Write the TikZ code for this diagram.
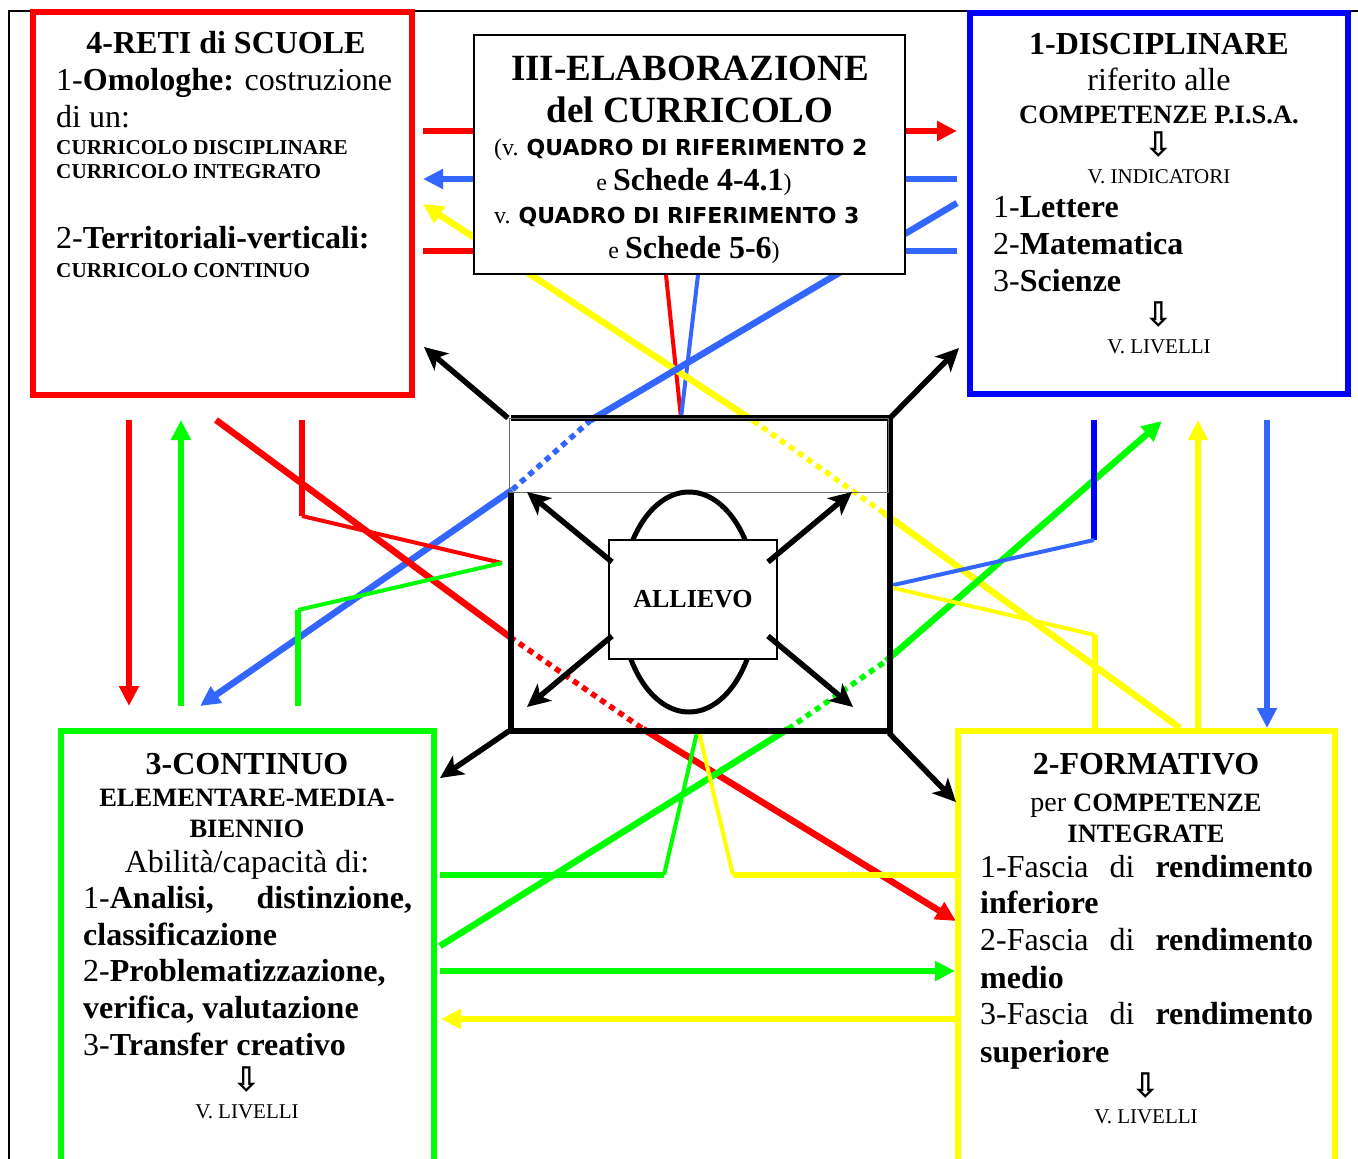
\documentclass[tikz,border=0pt]{standalone}
\usepackage{fontspec}
\setmainfont{Liberation Serif}
\newfontfamily\verdfont{DejaVu Sans}
\usetikzlibrary{arrows.meta}

\definecolor{rosso}{RGB}{255,0,0}
\definecolor{blu}{RGB}{0,0,255}
\definecolor{azzurro}{RGB}{51,102,255}
\definecolor{verde}{RGB}{0,255,0}
\definecolor{giallo}{RGB}{255,255,0}
\definecolor{grigio}{RGB}{110,110,110}

\newcommand\szT{\fontsize{32}{37}\selectfont}
\newcommand\szH{\fontsize{37}{42}\selectfont}
\newcommand\szM{\fontsize{26.5}{31}\selectfont}
\newcommand\szS{\fontsize{21.2}{24}\selectfont}
\newcommand\szV{\fontsize{21}{25}\selectfont}
\newcommand\szP{\fontsize{24}{28}\selectfont}
\newcommand\frecciagiu{{\verdfont\bfseries\fontsize{34}{34}\selectfont ⇩}}
\newcommand\quadrorif[1]{{\verdfont\bfseries\fontsize{22}{25}\selectfont QUADRO DI RIFERIMENTO #1}}

\begin{document}
\begin{tikzpicture}[x=1pt, y=-1pt,
  fat/.style={line width=6.5pt},
  slim/.style={line width=4pt},
  spotted/.style={line width=5.5pt, dash pattern=on 6pt off 5pt},
  headed/.style={-{Triangle[length=20pt,width=19pt]}},
  blackarrow/.style={line width=5.5pt, -{Stealth[length=23pt,width=22pt,inset=6pt]}},
  lbl/.style={inner sep=0pt, anchor=base west},
  clbl/.style={inner sep=0pt, anchor=base}]
\useasboundingbox (0,0) rectangle (1358,1159);
\clip (0,0) rectangle (1358,1159);
\fill[white] (0,0) rectangle (1358,1159);

% frame
\coordinate (fBL) at (9,1159);
\coordinate (fTL) at (9,11);
\coordinate (fTR) at (1358,11);
\draw[line width=1.5pt] (fBL) -- (fTL) -- (fTR);

% connectors round III
\coordinate (p1) at (423,131); \coordinate (p2) at (957,131);
\coordinate (p3) at (957,179); \coordinate (p4) at (423,179);
\coordinate (p5) at (423,251); \coordinate (p6) at (474,251);
\coordinate (p7) at (905,251); \coordinate (p8) at (957,251);
\coordinate (p9) at (666,275); \coordinate (p10) at (681,418); \coordinate (p11) at (698,275);
\draw[rosso, fat, headed] (p1) -- (p2);
\draw[azzurro, fat, headed] (p3) -- (p4);
\draw[rosso, fat] (p5) -- (p6);
\draw[azzurro, fat] (p7) -- (p8);
\draw[rosso, slim] (p9) -- (p10);
\draw[azzurro, slim] (p11) -- (p10);

% long diagonals
\coordinate (y1) at (1180,728); \coordinate (y2) at (884,513);
\coordinate (y3) at (752,420); \coordinate (y4) at (423,204);
\draw[giallo, fat] (y1) -- (y2);
\draw[giallo, spotted] (y2) -- (y3);
\draw[giallo, fat, headed] (y3) -- (y4);
\coordinate (z1) at (957,203); \coordinate (z2) at (591,420);
\coordinate (z3) at (512,490); \coordinate (z4) at (200,706);
\draw[azzurro, fat] (z1) -- (z2);
\draw[azzurro, spotted] (z2) -- (z3);
\draw[azzurro, fat, headed] (z3) -- (z4);
\coordinate (r1) at (216,420); \coordinate (r2) at (510,637);
\coordinate (r3) at (643,729); \coordinate (r4) at (956,921);
\draw[rosso, fat] (r1) -- (r2);
\draw[rosso, spotted] (r2) -- (r3);
\draw[rosso, fat, headed] (r3) -- (r4);
\coordinate (g1) at (440,946); \coordinate (g2) at (788,729);
\coordinate (g3) at (886,661); \coordinate (g4) at (1162,421);
\draw[verde, fat] (g1) -- (g2);
\draw[verde, spotted] (g2) -- (g3);
\draw[verde, fat, headed] (g3) -- (g4);

% left side
\coordinate (l1) at (129,420); \coordinate (l2) at (129,706);
\coordinate (l3) at (181,706); \coordinate (l4) at (181,420);
\coordinate (l5) at (302,420); \coordinate (l6) at (302,516); \coordinate (l7) at (502,563);
\coordinate (l8) at (298,706); \coordinate (l9) at (298,610);
\draw[rosso, fat, headed] (l1) -- (l2);
\draw[verde, fat, headed] (l3) -- (l4);
\draw[rosso, fat] (l5) -- (l6);
\draw[rosso, slim] (l6) -- (l7);
\draw[verde, slim] (l7) -- (l9);
\draw[verde, fat] (l9) -- (l8);

% right side
\coordinate (q1) at (1094,420); \coordinate (q2) at (1094,540); \coordinate (q3) at (889,586);
\coordinate (q4) at (889,587); \coordinate (q5) at (1095,635); \coordinate (q6) at (1095,728);
\coordinate (q7) at (1198,728); \coordinate (q8) at (1198,420);
\coordinate (q9) at (1267,420); \coordinate (q10) at (1267,728);
\draw[blu, fat] (q1) -- (q2);
\draw[azzurro, slim] (q2) -- (q3);
\draw[giallo, slim] (q4) -- (q5);
\draw[giallo, fat] (q5) -- (q6);
\draw[giallo, fat, headed] (q7) -- (q8);
\draw[azzurro, fat, headed] (q9) -- (q10);

% bottom
\coordinate (s1) at (697,732); \coordinate (s2) at (664,875); \coordinate (s3) at (440,875);
\coordinate (s4) at (699,732); \coordinate (s5) at (733,875); \coordinate (s6) at (956,875);
\coordinate (s7) at (440,971); \coordinate (s8) at (955,971);
\coordinate (s9) at (956,1019); \coordinate (s10) at (441,1019);
\draw[verde, slim] (s1) -- (s2);
\draw[verde, fat] (s2) -- (s3);
\draw[giallo, slim] (s4) -- (s5);
\draw[giallo, fat] (s5) -- (s6);
\draw[verde, fat, headed] (s7) -- (s8);
\draw[giallo, fat, headed] (s9) -- (s10);

% boxes
\node[draw=rosso, line width=6pt, minimum width=379pt, minimum height=383.5pt] (reti) at (222.5,203.25) {};
\node[draw=blu, line width=6pt, minimum width=378pt, minimum height=381pt] (disc) at (1159,203.5) {};
\node[draw=verde, line width=6pt, minimum width=373pt, minimum height=449pt] (cont) at (247.5,955.5) {};
\node[draw=giallo, line width=6pt, minimum width=377pt, minimum height=449pt] (form) at (1146.5,955.5) {};
\node[draw, line width=1.5pt, fill=white, minimum width=431pt, minimum height=239pt] (elab) at (689.5,154.5) {};

% centre
\coordinate (k1) at (511,418); \coordinate (k2) at (890,418);
\coordinate (k3) at (890,731); \coordinate (k4) at (511,731);
\coordinate (k5) at (511,492);
\coordinate (k6) at (509,418); \coordinate (k7) at (888,492);
\draw[line width=5.5pt] (k5) -- (k4) -- (k3) -- (k2) -- (k1);
\draw[grigio, line width=1pt] (k6) rectangle (k7);
\coordinate (o1) at (508,418); \coordinate (o2) at (424,347);
\coordinate (o3) at (891,417); \coordinate (o4) at (959,348);
\coordinate (o5) at (509,731); \coordinate (o6) at (440,778);
\coordinate (o7) at (889,733); \coordinate (o8) at (956,802);
\draw[blackarrow] (o1) -- (o2);
\draw[blackarrow] (o3) -- (o4);
\draw[blackarrow] (o5) -- (o6);
\draw[blackarrow] (o7) -- (o8);
\draw[line width=5pt] (689,602) ellipse [x radius=68pt, y radius=110pt];
\node[draw, line width=1.2pt, fill=white, minimum width=168pt, minimum height=119pt,
  font=\fontsize{26}{30}\selectfont\bfseries] (allievo) at (693,599.5) {ALLIEVO};
\coordinate (i1) at (612,562); \coordinate (i2) at (527,492);
\coordinate (i3) at (768,562); \coordinate (i4) at (852,492);
\coordinate (i5) at (612,636); \coordinate (i6) at (527,707);
\coordinate (i7) at (768,636); \coordinate (i8) at (853,707);
\draw[blackarrow] (i1) -- (i2);
\draw[blackarrow] (i3) -- (i4);
\draw[blackarrow] (i5) -- (i6);
\draw[blackarrow] (i7) -- (i8);

% texts
\node[clbl, font=\szT\bfseries] (reti1) at (226,53) {4-RETI di SCUOLE};
\node[lbl, font=\szT] (reti2) at (56,90) {1-\textbf{Omologhe:} costruzione};
\node[lbl, font=\szT] (reti3) at (56,127) {di un:};
\node[lbl, font=\szS\bfseries] (reti4) at (56,154) {CURRICOLO DISCIPLINARE};
\node[lbl, font=\szS\bfseries] (reti5) at (56,178) {CURRICOLO INTEGRATO};
\node[lbl, font=\szT] (reti6) at (56,248) {2-\textbf{Territoriali-verticali:}};
\node[lbl, font=\szS\bfseries] (reti7) at (56,277) {CURRICOLO CONTINUO};

\node[clbl, font=\szH\bfseries] (elab1) at (690,80) {III-ELABORAZIONE};
\node[clbl, font=\szH\bfseries] (elab2) at (690,122) {del CURRICOLO};
\node[lbl, font=\szP] (elab3) at (494,155) {(v. \quadrorif{2}};
\node[clbl, font=\szP] (elab4) at (694,190) {e {\szT\bfseries Schede 4-4.1})};
\node[lbl, font=\szP] (elab5) at (494,223) {v. \quadrorif{3}};
\node[clbl, font=\szP] (elab6) at (694,258) {e {\szT\bfseries Schede 5-6})};

\node[clbl, font=\szT\bfseries] (disc1) at (1159,54) {1-DISCIPLINARE};
\node[clbl, font=\szT] (disc2) at (1159,90) {riferito alle};
\node[clbl, font=\szM\bfseries] (disc3) at (1159,123) {COMPETENZE P.I.S.A.};
\node[inner sep=0pt] (disc4) at (1159,145) {\frecciagiu};
\node[clbl, font=\szV] (disc5) at (1159,183) {V. INDICATORI};
\node[lbl, font=\szT] (disc6) at (993,217) {1-\textbf{Lettere}};
\node[lbl, font=\szT] (disc7) at (993,254) {2-\textbf{Matematica}};
\node[lbl, font=\szT] (disc8) at (993,291) {3-\textbf{Scienze}};
\node[inner sep=0pt] (disc9) at (1159,315) {\frecciagiu};
\node[clbl, font=\szV] (disc10) at (1159,353) {V. LIVELLI};

\node[clbl, font=\szT\bfseries] (cont1) at (247,774) {3-CONTINUO};
\node[clbl, font=\szM\bfseries] (cont2) at (247,806) {ELEMENTARE-MEDIA-};
\node[clbl, font=\szM\bfseries] (cont3) at (247,837) {BIENNIO};
\node[clbl, font=\szT] (cont4) at (247,872) {Abilità/capacità di:};
\node[lbl, font=\szT] (cont5) at (83,908) {\hbox to 329pt{1-\textbf{Analisi,}\hfill\textbf{distinzione,}}};
\node[lbl, font=\szT\bfseries] (cont6) at (83,945) {classificazione};
\node[lbl, font=\szT] (cont7) at (83,981) {2-\textbf{Problematizzazione,}};
\node[lbl, font=\szT\bfseries] (cont8) at (83,1018) {verifica, valutazione};
\node[lbl, font=\szT] (cont9) at (83,1055) {3-\textbf{Transfer creativo}};
\node[inner sep=0pt] (cont10) at (247,1080) {\frecciagiu};
\node[clbl, font=\szV] (cont11) at (247,1118) {V. LIVELLI};

\node[clbl, font=\szT\bfseries] (form1) at (1146,774) {2-FORMATIVO};
\node[clbl, font=\fontsize{28}{32}\selectfont] (form2) at (1146,811) {per {\szM\bfseries COMPETENZE}};
\node[clbl, font=\szM\bfseries] (form3) at (1146,842) {INTEGRATE};
\node[lbl, font=\szT] (form4) at (980,877) {\hbox to 333pt{1-Fascia\hfill di\hfill\textbf{rendimento}}};
\node[lbl, font=\szT\bfseries] (form5) at (980,913) {inferiore};
\node[lbl, font=\szT] (form6) at (980,950) {\hbox to 333pt{2-Fascia\hfill di\hfill\textbf{rendimento}}};
\node[lbl, font=\szT\bfseries] (form7) at (980,988) {medio};
\node[lbl, font=\szT] (form8) at (980,1024) {\hbox to 333pt{3-Fascia\hfill di\hfill\textbf{rendimento}}};
\node[lbl, font=\szT\bfseries] (form9) at (980,1062) {superiore};
\node[inner sep=0pt] (form10) at (1146,1086) {\frecciagiu};
\node[clbl, font=\szV] (form11) at (1146,1123) {V. LIVELLI};
\end{tikzpicture}
\end{document}
